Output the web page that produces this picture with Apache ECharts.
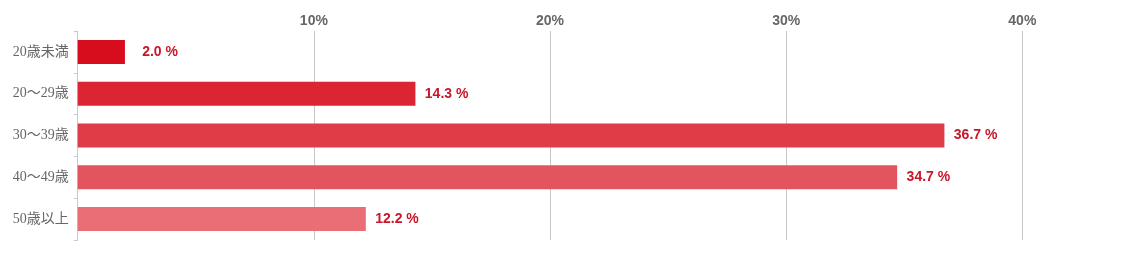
<!DOCTYPE html>
<html>
<head>
<meta charset="utf-8">
<style>
html,body{margin:0;padding:0;background:#fff;}
#c{width:1122px;height:255px;}
</style>
<script src="https://cdn.jsdelivr.net/npm/echarts@6/dist/echarts.min.js"></script>
</head>
<body>
<div id="c"></div>
<script>
const categories = ['20歳未満', '20〜29歳', '30〜39歳', '40〜49歳', '50歳以上'];
const values = [2.0, 14.3, 36.7, 34.7, 12.2];
const barColors = ['#d70c1c', '#dc2533', '#e03c48', '#e4545f', '#e96e76'];
const tickValues = [10, 20, 30, 40];

const chart = echarts.init(document.getElementById('c'), null, {renderer: 'canvas'});
chart.setOption({
  animation: false,
  grid: {left: 77.7, top: 31, right: 0, height: 209, containLabel: false},
  xAxis: {
    type: 'value', position: 'top', min: 0, max: 44.22, interval: 10,
    axisLine: {show: false}, axisTick: {show: false},
    splitLine: {show: true, lineStyle: {color: '#c8c8c8', width: 1}},
    axisLabel: {
      showMinLabel: false, showMaxLabel: false, margin: 3,
      color: '#666', fontSize: 14, fontWeight: 'bold', fontFamily: 'Arial, "Liberation Sans", sans-serif',
      formatter: v => tickValues.includes(v) ? v + '%' : ''
    }
  },
  yAxis: {
    type: 'category', data: categories, inverse: true,
    axisLine: {show: true, lineStyle: {color: '#c0ccd8', width: 1}},
    axisTick: {show: true, length: 4, lineStyle: {color: '#c0ccd8'}},
    axisLabel: {margin: 9, color: '#666', fontSize: 14, fontFamily: '"Liberation Serif", "Noto Sans CJK JP", serif'}
  },
  series: [{
    type: 'bar', barWidth: 24,
    data: values.map((v, i) => ({value: v, itemStyle: {color: barColors[i]}})),
    label: {
      show: true, position: 'right', distance: 8,
      formatter: p => '{a|' + p.value.toFixed(1) + ' %}',
      rich: {a: {width: 45, align: 'right', color: '#c8162a', fontSize: 14, fontWeight: 'bold', fontFamily: 'Arial, "Liberation Sans", sans-serif'}}
    }
  }]
});
</script>
</body>
</html>
